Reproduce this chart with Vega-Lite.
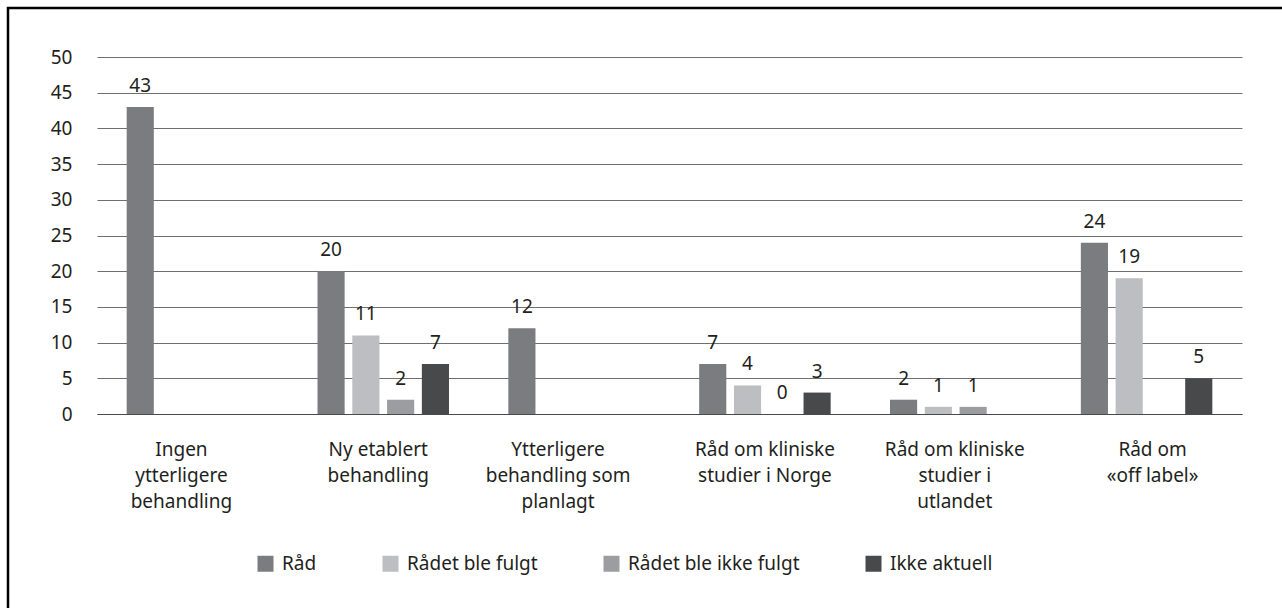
{
  "$schema": "https://vega.github.io/schema/vega-lite/v6.json",
  "width": 1290,
  "height": 620,
  "autosize": {"type": "none"},
  "padding": {"left": 8, "top": 8, "right": 0, "bottom": 0},
  "background": "white",
  "data": {
    "values": [
      {"kategori": "Ingen ytterligere behandling", "serie": "Råd", "antall": 43},
      {"kategori": "Ny etablert behandling", "serie": "Råd", "antall": 20},
      {"kategori": "Ny etablert behandling", "serie": "Rådet ble fulgt", "antall": 11},
      {"kategori": "Ny etablert behandling", "serie": "Rådet ble ikke fulgt", "antall": 2},
      {"kategori": "Ny etablert behandling", "serie": "Ikke aktuell", "antall": 7},
      {"kategori": "Ytterligere behandling som planlagt", "serie": "Råd", "antall": 12},
      {"kategori": "Råd om kliniske studier i Norge", "serie": "Råd", "antall": 7},
      {"kategori": "Råd om kliniske studier i Norge", "serie": "Rådet ble fulgt", "antall": 4},
      {"kategori": "Råd om kliniske studier i Norge", "serie": "Rådet ble ikke fulgt", "antall": 0},
      {"kategori": "Råd om kliniske studier i Norge", "serie": "Ikke aktuell", "antall": 3},
      {"kategori": "Råd om kliniske studier i utlandet", "serie": "Råd", "antall": 2},
      {"kategori": "Råd om kliniske studier i utlandet", "serie": "Rådet ble fulgt", "antall": 1},
      {"kategori": "Råd om kliniske studier i utlandet", "serie": "Rådet ble ikke fulgt", "antall": 1},
      {"kategori": "Råd om «off label»", "serie": "Råd", "antall": 24},
      {"kategori": "Råd om «off label»", "serie": "Rådet ble fulgt", "antall": 19},
      {"kategori": "Råd om «off label»", "serie": "Ikke aktuell", "antall": 5}
    ]
  },
  "encoding": {
    "x": {
      "field": "kategori",
      "type": "nominal",
      "sort": ["Ingen ytterligere behandling", "Ny etablert behandling", "Ytterligere behandling som planlagt", "Råd om kliniske studier i Norge", "Råd om kliniske studier i utlandet", "Råd om «off label»"],
      "scale": {"range": [89, 1234], "paddingInner": 0.311, "paddingOuter": 0.1555},
      "axis": {
        "title": null,
        "orient": "bottom",
        "offset": -214,
        "domain": true,
        "domainColor": "#4a4a4a",
        "domainWidth": 1,
        "ticks": false,
        "grid": false,
        "labelAngle": 0,
        "labelPadding": 26,
        "labelFont": "Noto Sans",
        "labelFontSize": 19,
        "labelColor": "#231f20",
        "labelLineHeight": 26,
        "labelBaseline": "top",
        "labelLimit": 400,
        "labelOverlap": false,
        "labelBound": false,
        "labelOffset": {
          "condition": [
            {"test": "datum.value == 'Ingen ytterligere behandling'", "value": -11},
            {"test": "datum.value == 'Ny etablert behandling'", "value": -5},
            {"test": "datum.value == 'Ytterligere behandling som planlagt'", "value": -16},
            {"test": "datum.value == 'Råd om kliniske studier i utlandet'", "value": -1},
            {"test": "datum.value == 'Råd om «off label»'", "value": 6}
          ],
          "value": 0
        },
        "labelExpr": "{'Ingen ytterligere behandling': ['Ingen', 'ytterligere', 'behandling'], 'Ny etablert behandling': ['Ny etablert', 'behandling'], 'Ytterligere behandling som planlagt': ['Ytterligere', 'behandling som', 'planlagt'], 'Råd om kliniske studier i Norge': ['Råd om kliniske', 'studier i Norge'], 'Råd om kliniske studier i utlandet': ['Råd om kliniske', 'studier i', 'utlandet'], 'Råd om «off label»': ['Råd om', '«off label»']}[datum.value]"
      }
    },
    "xOffset": {
      "field": "serie",
      "type": "nominal",
      "sort": ["Råd", "Rådet ble fulgt", "Rådet ble ikke fulgt", "Ikke aktuell"],
      "scale": {"domain": ["Råd", "Rådet ble fulgt", "Rådet ble ikke fulgt", "Ikke aktuell"], "paddingInner": 0.22, "paddingOuter": 0}
    },
    "y": {
      "field": "antall",
      "type": "quantitative",
      "scale": {"domain": [0, 50], "range": [406, 49], "nice": false, "zero": true},
      "axis": {
        "title": null,
        "orient": "left",
        "offset": -64,
        "values": [0, 5, 10, 15, 20, 25, 30, 35, 40, 45, 50],
        "domain": false,
        "ticks": false,
        "tickSize": 0,
        "labelPadding": 0,
        "grid": true,
        "gridColor": "#6f6f6f",
        "gridWidth": 1,
        "labelFont": "Noto Sans",
        "labelFontSize": 19,
        "labelColor": "#231f20"
      }
    }
  },
  "layer": [
    {
      "mark": {"type": "bar"},
      "encoding": {
        "color": {
          "field": "serie",
          "type": "nominal",
          "scale": {
            "domain": ["Råd", "Rådet ble fulgt", "Rådet ble ikke fulgt", "Ikke aktuell"],
            "range": ["#7b7c7f", "#bdbec1", "#9c9da0", "#48494b"]
          },
          "legend": {
            "title": null,
            "orient": "none",
            "legendX": 248,
            "legendY": 546,
            "direction": "horizontal",
            "symbolType": "square",
            "symbolSize": 256,
            "symbolStrokeWidth": 0,
            "labelFont": "Noto Sans",
            "labelFontSize": 19,
            "labelColor": "#231f20",
            "labelOffset": 7,
            "labelLimit": 400,
            "columnPadding": 64,
            "padding": 0
          }
        }
      }
    },
    {
      "mark": {"type": "text", "dy": -15, "baseline": "alphabetic", "font": "Noto Sans", "fontSize": 19, "color": "#231f20"},
      "encoding": {
        "text": {"field": "antall", "type": "quantitative"}
      }
    }
  ],
  "config": {
    "font": "Noto Sans",
    "view": {"stroke": "#000000", "strokeWidth": 2.5}
  }
}
